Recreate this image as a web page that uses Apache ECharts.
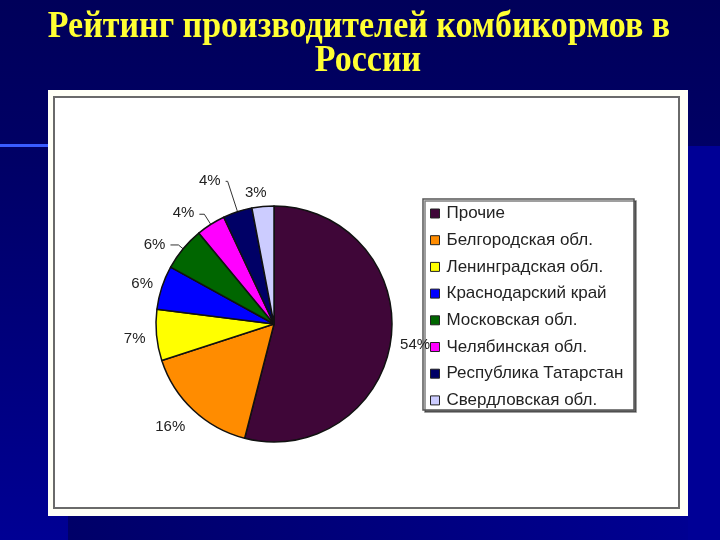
<!DOCTYPE html>
<html>
<head>
<meta charset="utf-8">
<script src="https://cdn.jsdelivr.net/npm/echarts@6/dist/echarts.min.js"></script>
<style>
  html, body { margin: 0; padding: 0; background: #000066; }
  #chart { width: 720px; height: 540px; }
</style>
</head>
<body>
<div id="chart"></div>
<script>
var titleLines = ['Рейтинг производителей комбикормов в', 'России'];
var regions = ['Прочие', 'Белгородская обл.', 'Ленинградская обл.', 'Краснодарский край',
    'Московская обл.', 'Челябинская обл.', 'Республика Татарстан', 'Свердловская обл.'];
var shares = [54, 16, 7, 6, 6, 4, 4, 3];
var colors = ['#3f0638', '#ff8c00', '#ffff00', '#0000ff', '#006600', '#ff00ff', '#000066', '#ccccff'];

// per-slice label line tuning (length, length2, show line) and small nudges
var lineLen = [4, 16, 6, 4, 6, 12, 32, 14];
var lineLen2 = [0, 0, 0, 0, 8, 5, 2, 0];
var lineShow = [false, false, false, false, true, true, true, false];
var nudgeX = [0, 8, 0, 0, 0, 0, 0, 10];
var nudgeY = [6, 5, 3, -2, 0, -1, 0, 0];

var chart = echarts.init(document.getElementById('chart'));

var pieData = [];
for (var i = 0; i < regions.length; i++) {
    pieData.push({
        name: regions[i],
        value: shares[i],
        itemStyle: { color: colors[i] },
        labelLine: { show: lineShow[i], length: lineLen[i], length2: lineLen2[i] }
    });
}

var titleStyle = {
    align: 'center',
    verticalAlign: 'top',
    font: 'bold 34px "Liberation Serif", "Times New Roman", serif',
    fill: '#ffff33',
    textShadowColor: 'rgba(0,0,0,0.9)',
    textShadowOffsetX: 2,
    textShadowOffsetY: 2
};

var option = {
    backgroundColor: '#000066',
    animation: false,
    graphic: [
        // slide background
        {
            type: 'rect', z: -10, silent: true,
            shape: { x: 0, y: 0, width: 720, height: 540 },
            style: {
                fill: new echarts.graphic.LinearGradient(0, 0, 0, 1, [
                    { offset: 0, color: '#00005a' },
                    { offset: 0.3, color: '#000066' },
                    { offset: 1, color: '#000094' }
                ])
            }
        },
        {
            type: 'rect', z: -9, silent: true,
            shape: { x: 688, y: 146, width: 32, height: 394 },
            style: { fill: '#000096' }
        },
        {
            type: 'rect', z: -9, silent: true,
            shape: { x: 68, y: 516, width: 620, height: 24 },
            style: {
                fill: new echarts.graphic.LinearGradient(0, 0, 1, 0, [
                    { offset: 0, color: '#000068' },
                    { offset: 1, color: '#000092' }
                ])
            }
        },
        {
            type: 'rect', z: -9, silent: true,
            shape: { x: 0, y: 144, width: 48, height: 3 },
            style: { fill: '#3a5cff' }
        },
        // white panel
        {
            type: 'rect', z: -8, silent: true,
            shape: { x: 48, y: 90, width: 640, height: 426 },
            style: { fill: '#fffff6' }
        },
        {
            type: 'rect', z: -7, silent: true,
            shape: { x: 54, y: 97, width: 625, height: 411 },
            style: { fill: '#ffffff', stroke: '#6a6a6a', lineWidth: 2 }
        },
        // legend frame
        {
            type: 'rect', z: -6, silent: true,
            shape: { x: 423, y: 199, width: 211, height: 211 },
            style: { fill: '#ffffff', stroke: '#555555', lineWidth: 1.5, shadowColor: 'rgba(0,0,0,0.5)', shadowOffsetX: 2, shadowOffsetY: 2 }
        },
        // title
        {
            type: 'text', x: 359, y: 9, scaleY: 1.1, silent: true,
            style: echarts.util.extend({ text: titleLines[0] }, titleStyle)
        },
        {
            type: 'text', x: 368, y: 43, scaleY: 1.1, silent: true,
            style: echarts.util.extend({ text: titleLines[1] }, titleStyle)
        }
    ],
    legend: {
        orient: 'vertical',
        left: 430,
        top: 205,
        padding: 0,
        icon: 'rect',
        itemWidth: 9,
        itemHeight: 9,
        itemGap: 9.7,
        itemStyle: { borderColor: '#222', borderWidth: 1 },
        textStyle: {
            color: '#222',
            fontFamily: 'Arial, "Liberation Sans", sans-serif',
            fontSize: 17,
            lineHeight: 17,
            padding: [0, 0, 0, 2]
        },
        data: regions
    },
    series: [
        {
            type: 'pie',
            center: [274, 324],
            radius: 118,
            startAngle: 90,
            clockwise: true,
            avoidLabelOverlap: false,
            itemStyle: { borderColor: '#111', borderWidth: 1.5 },
            label: {
                show: true,
                position: 'outside',
                formatter: '{c}%',
                color: '#222',
                fontFamily: 'Arial, "Liberation Sans", sans-serif',
                fontSize: 15
            },
            labelLine: {
                lineStyle: { color: '#333', width: 1 }
            },
            labelLayout: function (params) {
                return { dx: nudgeX[params.dataIndex], dy: nudgeY[params.dataIndex] };
            },
            emphasis: { disabled: true },
            data: pieData
        }
    ]
};

chart.setOption(option);
</script>
</body>
</html>
